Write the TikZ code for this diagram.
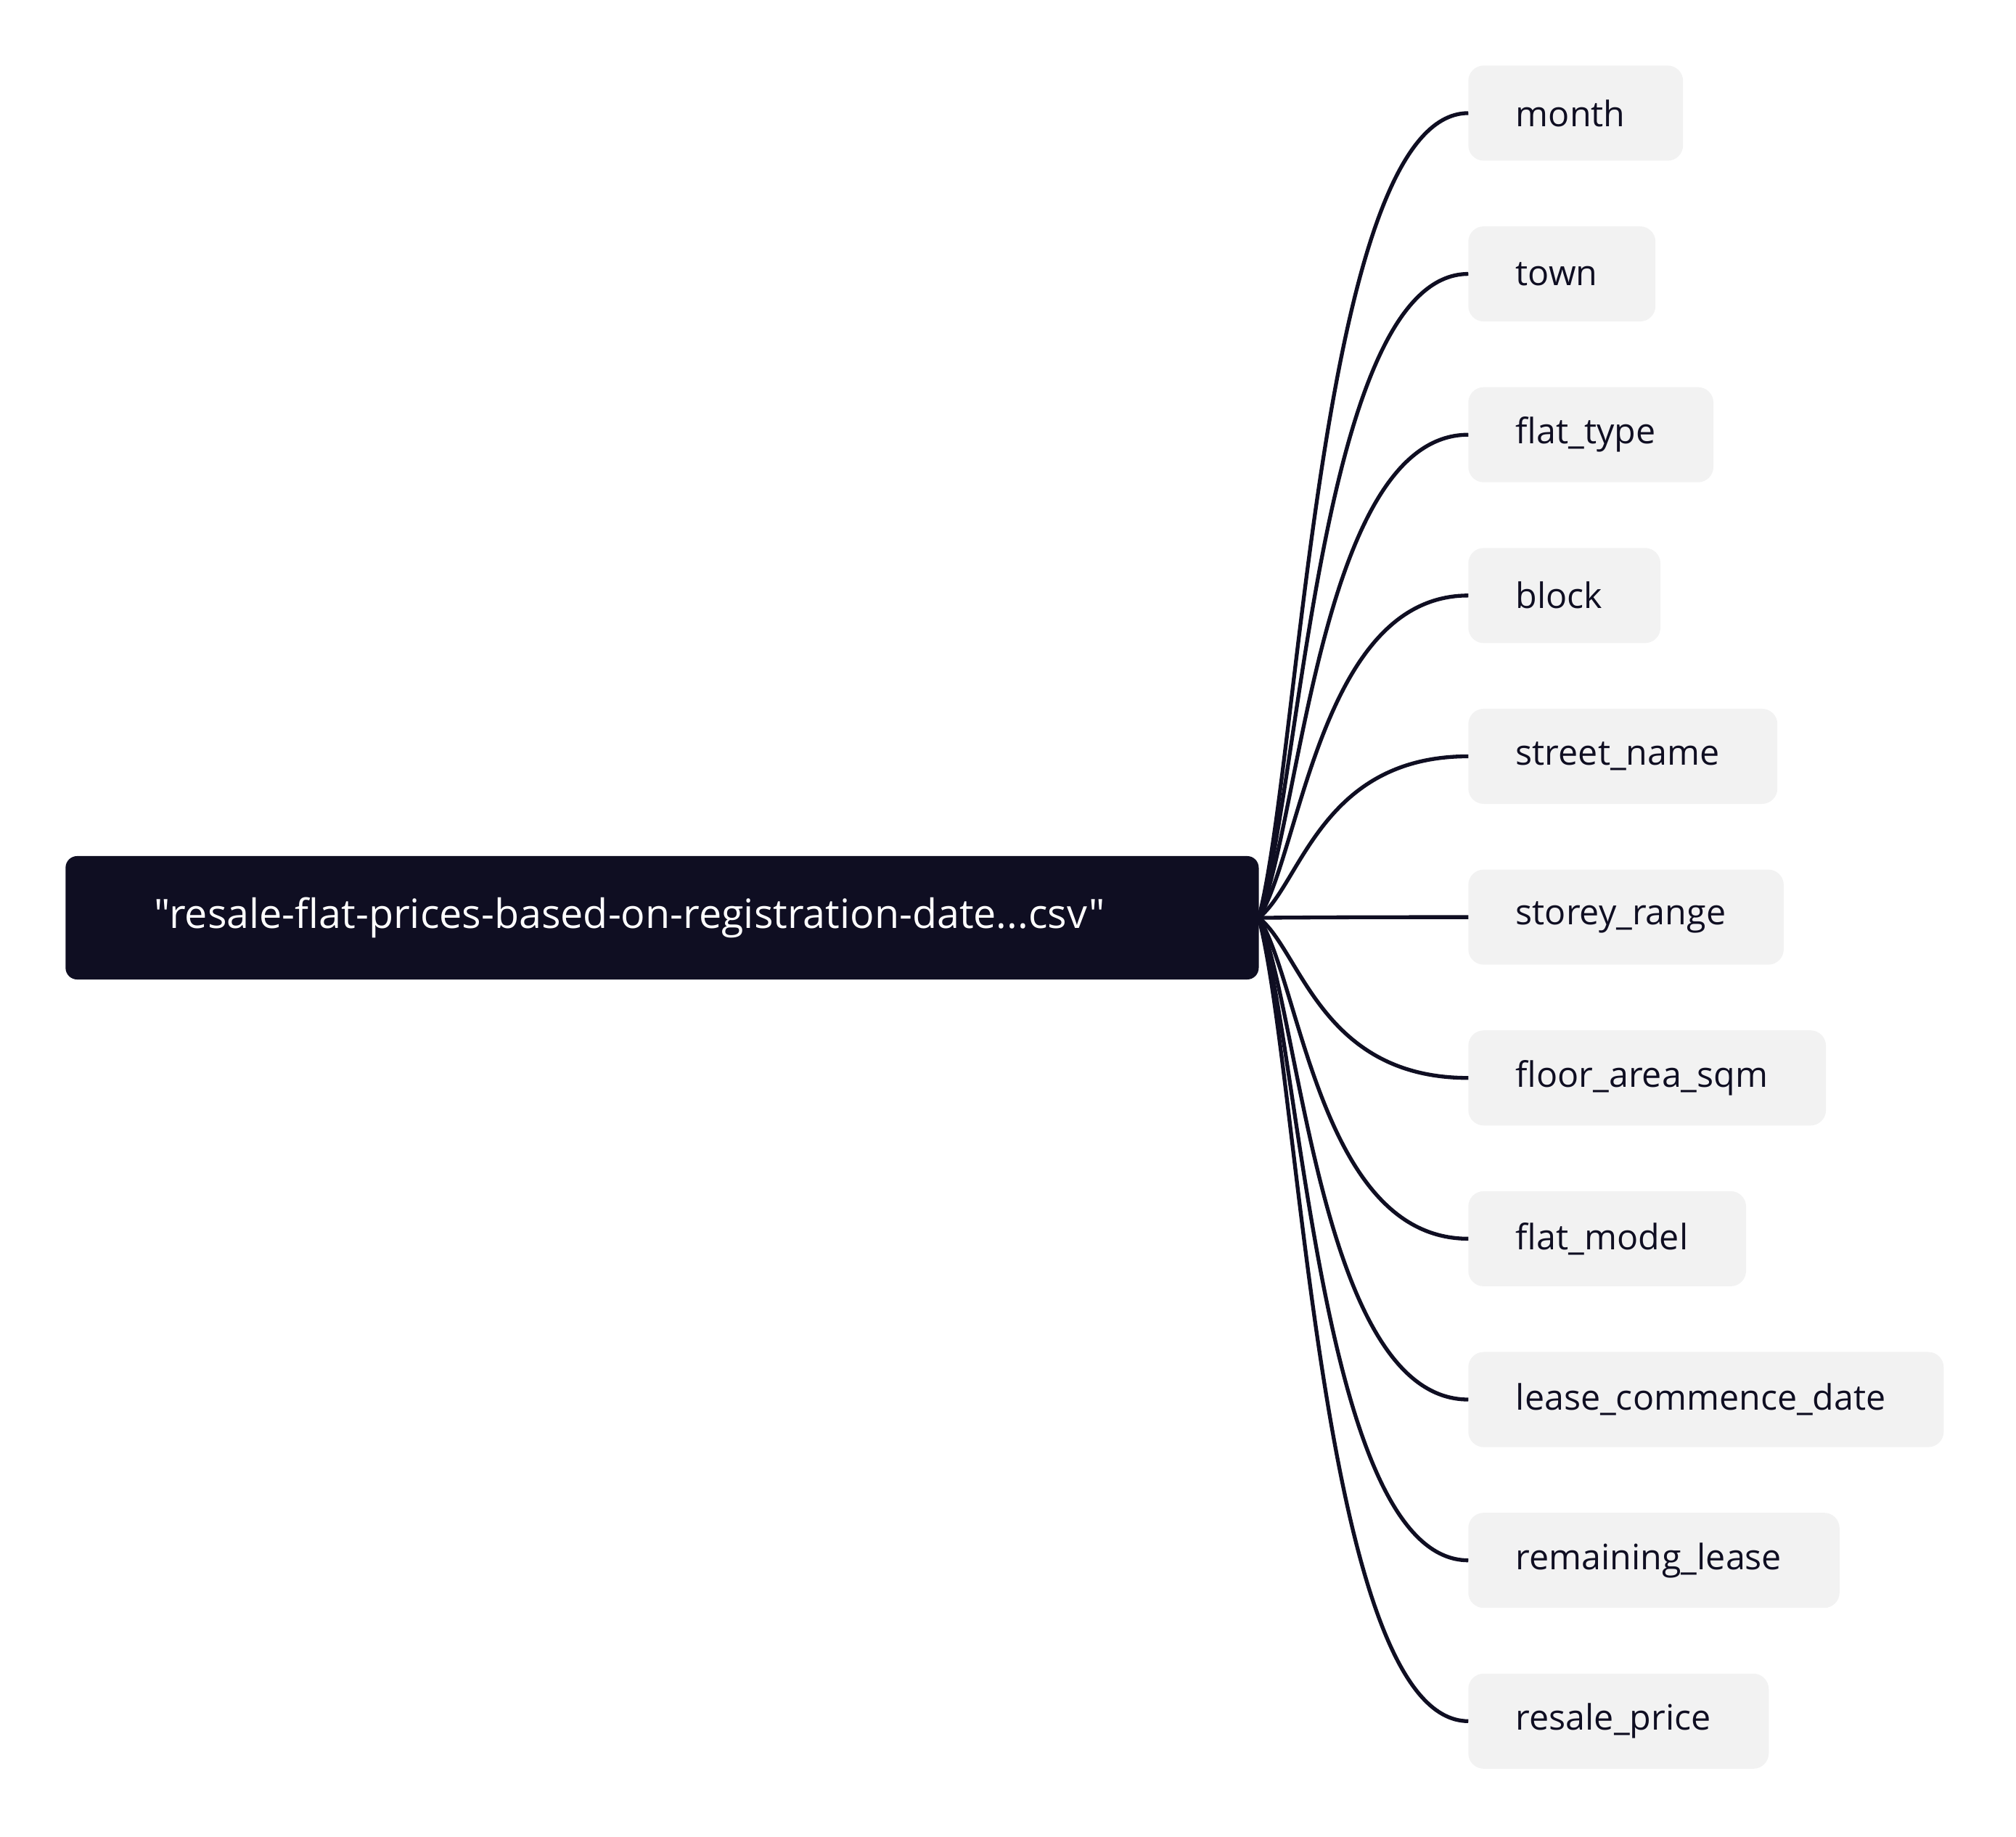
\documentclass[tikz,border=0pt]{standalone}
\usepackage{fontspec}
\setmainfont[Ligatures=TeXOff]{Open Sans}
\usetikzlibrary{positioning, calc}

\definecolor{ink}{HTML}{0F0E22}
\definecolor{leafgray}{HTML}{F2F2F2}

\tikzset{
    rootbox/.style={fill=ink, text=white, rounded corners=9pt, minimum height=96pt,
        inner xsep=69pt, inner ysep=0pt, outer sep=0pt, text width=790pt, align=left,
        font=\fontsize{31.4}{36}\selectfont},
    leaf/.style={fill=leafgray, text=ink, rounded corners=12pt, minimum height=74pt,
        inner xsep=37pt, inner ysep=0pt, outer sep=0pt, font=\fontsize{27.3}{33}\selectfont,
        execute at end node={\hspace*{8pt}}},
    branch/.style={draw=ink, line width=3pt,
        to path={.. controls ($(\tikztostart)!0.2!(\tikztotarget)$) and ($(\tikztotarget)+(-115pt,0)$) .. (\tikztotarget)}}
}

\begin{document}
\begin{tikzpicture}[x=1pt, y=-1pt, node distance=51.1pt]
    \useasboundingbox (0,0) rectangle (1568,1429);
    % Nodes
    \node[rootbox, anchor=west] (csv) at (51,714) {"resale-flat-prices-based-on-registration-date...csv"};
    \node[leaf, anchor=west] (month) at (1142,88) {month};
    \node[leaf, below=of month.south west, anchor=north west] (town) {town};
    \node[leaf, below=of town.south west, anchor=north west] (flattype) {flat\_type};
    \node[leaf, below=of flattype.south west, anchor=north west] (block) {block};
    \node[leaf, below=of block.south west, anchor=north west] (street) {street\_name};
    \node[leaf, below=of street.south west, anchor=north west] (storey) {storey\_range};
    \node[leaf, below=of storey.south west, anchor=north west] (area) {floor\_area\_sqm};
    \node[leaf, below=of area.south west, anchor=north west] (model) {flat\_model};
    \node[leaf, below=of model.south west, anchor=north west] (lease) {lease\_commence\_date};
    \node[leaf, below=of lease.south west, anchor=north west] (remaining) {remaining\_lease};
    \node[leaf, below=of remaining.south west, anchor=north west] (price) {resale\_price};

    % Branches
    \draw[branch] (csv.east) to (month.west);
    \draw[branch] (csv.east) to (town.west);
    \draw[branch] (csv.east) to (flattype.west);
    \draw[branch] (csv.east) to (block.west);
    \draw[branch] (csv.east) to (street.west);
    \draw[branch] (csv.east) to (storey.west);
    \draw[branch] (csv.east) to (area.west);
    \draw[branch] (csv.east) to (model.west);
    \draw[branch] (csv.east) to (lease.west);
    \draw[branch] (csv.east) to (remaining.west);
    \draw[branch] (csv.east) to (price.west);
\end{tikzpicture}
\end{document}
